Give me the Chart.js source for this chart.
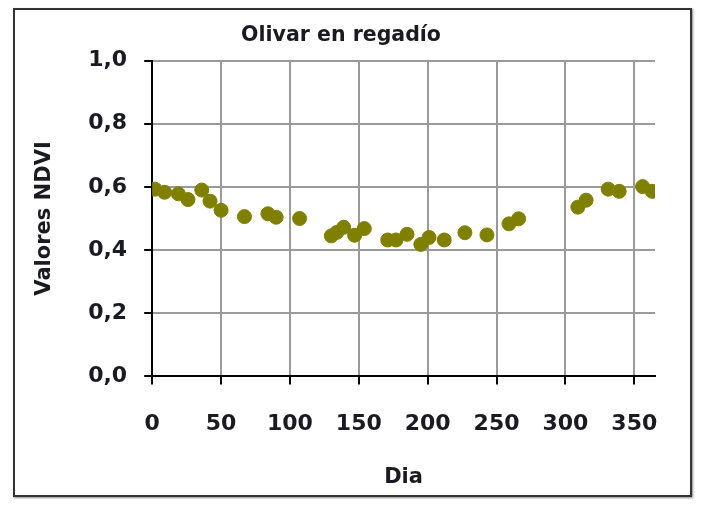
<!DOCTYPE html>
<html>
<head>
<meta charset="utf-8">
<script src="https://cdn.jsdelivr.net/npm/chart.js@4.4.0/dist/chart.umd.min.js"></script>
<style>
  body { margin: 0; background: #fff; }
  #box {
    position: absolute; left: 13px; top: 8px;
    width: 675px; height: 485px;
    border: 2px solid #333;
    box-shadow: 1px 1px 2px #888;
  }
</style>
</head>
<body>
<div id="box"><canvas id="myChart"></canvas></div>
<script>
// dia del año y valor NDVI
var dias = [2, 9, 19, 26, 36, 42, 50, 67, 84, 90, 107, 130, 134, 139, 147, 154, 171, 177, 185, 195, 201, 212, 227, 243, 259, 266, 309, 315, 331, 339, 356, 363];
var ndvi = [0.593, 0.583, 0.578, 0.56, 0.59, 0.555, 0.526, 0.506, 0.515, 0.504, 0.5, 0.445, 0.456, 0.472, 0.447, 0.468, 0.432, 0.432, 0.45, 0.418, 0.44, 0.432, 0.455, 0.448, 0.483, 0.499, 0.536, 0.558, 0.593, 0.586, 0.601, 0.586];
var xTicks = [0, 50, 100, 150, 200, 250, 300, 350];

var puntos = dias.map((d, i) => ({x: d, y: ndvi[i]}));

var ctx = document.getElementById('myChart');
var font = "'DejaVu Sans', sans-serif";
var txt = '#1a1a22';

var myChart = new Chart(ctx, {
    type: 'scatter',
    data: {
        datasets: [{
            label: 'NDVI',
            data: puntos,
            backgroundColor: '#808000',
            borderColor: '#808000',
            pointRadius: 7,
            pointHoverRadius: 7
        }]
    },
    options: {
        responsive: true,
        maintainAspectRatio: false,
        animation: false,
        layout: { padding: { top: 13, right: 35, bottom: 5, left: 12 } },
        plugins: {
            legend: { display: false },
            tooltip: { enabled: false },
            title: {
                display: true,
                text: 'Olivar en regadío',
                color: txt,
                font: { family: font, size: 20.5, weight: 'bold' },
                padding: { top: 0, bottom: 13 }
            }
        },
        scales: {
            x: {
                type: 'linear',
                min: 0,
                max: 365,
                afterBuildTicks: (axis) => { axis.ticks = xTicks.map(v => ({value: v})); },
                ticks: {
                    color: txt,
                    font: { family: font, size: 22, weight: 'bold' },
                    padding: 27
                },
                grid: { color: '#9a9a9a', lineWidth: 2, tickColor: '#000', tickLength: 8 },
                border: { color: '#000', width: 2 },
                title: {
                    display: true,
                    text: 'Dia',
                    color: txt,
                    font: { family: font, size: 21, weight: 'bold' },
                    padding: { top: 0, bottom: 0 }
                }
            },
            y: {
                min: 0,
                max: 1,
                ticks: {
                    stepSize: 0.2,
                    color: txt,
                    font: { family: font, size: 22, weight: 'bold' },
                    padding: 17,
                    callback: (v) => v.toFixed(1).replace('.', ',')
                },
                grid: { color: '#9a9a9a', lineWidth: 2, tickColor: '#000', tickLength: 8 },
                border: { color: '#000', width: 2 },
                title: {
                    display: true,
                    text: 'Valores NDVI',
                    color: txt,
                    font: { family: font, size: 21, weight: 'bold' },
                    padding: { top: 5, bottom: 14 }
                }
            }
        }
    }
});
</script>
</body>
</html>
